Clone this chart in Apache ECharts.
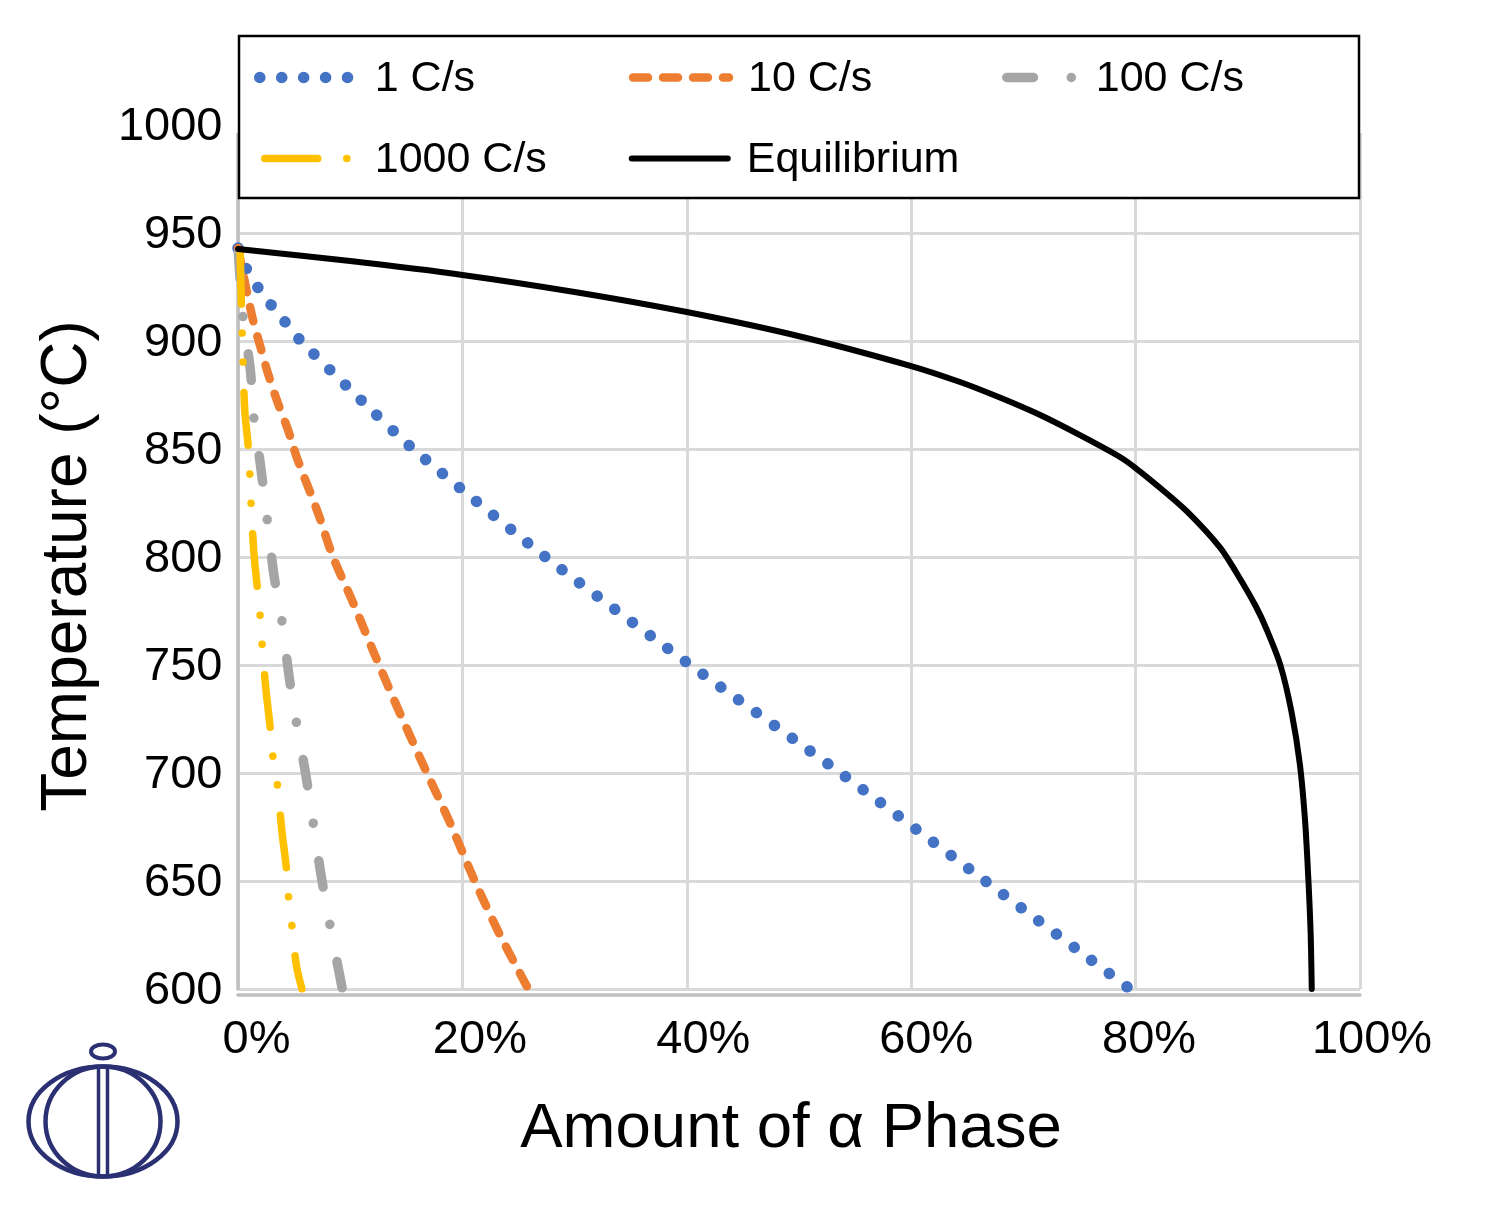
<!DOCTYPE html>
<html><head><meta charset="utf-8">
<script src="https://cdn.jsdelivr.net/npm/echarts@6/dist/echarts.min.js"></script>
<style>html,body{margin:0;background:#fff}#c{width:1501px;height:1211px}</style></head>
<body><div id="c"></div>
<script>
const seriesNames = ['1 C/s','10 C/s','100 C/s','1000 C/s','Equilibrium'];
const xTickLabels = ['0%','20%','40%','60%','80%','100%'];
const yTickLabels = [600,650,700,750,800,850,900,950,1000];
const rate1 = [[0,943],[0.8,932.9],[1.87,924],[3.03,916.2],[4.28,908.3],[5.6,900],[10.5,875],[15.6,850],[27.4,800],[40.3,750],[53.7,700],[66.6,650],[79.5,600]];
const rate10 = [[0,943],[1.25,911.6],[1.96,898],[2.67,885],[3.5,872],[4.46,858.8],[5.26,845.8],[7.13,820.4],[8.47,800],[10.16,780],[12.2,754.6],[14.4,728],[16.84,700],[18.9,676.9],[21.1,650],[23.35,625],[25.67,602],[25.9,600]];
const rate100 = [[0,944],[0.45,911],[1.1,886.6],[1.4,865],[2,842.6],[2.6,817.6],[3.2,791.7],[3.9,770.8],[4.6,743],[5.2,723.6],[6,700.5],[6.7,676.9],[7.4,652.8],[8.2,629.6],[9.3,600]];
const rate1000 = [[0.18,944],[0.3,916.7],[0.45,890.7],[0.6,868],[0.9,851.9],[1.05,839],[1.16,825.5],[1.4,803],[1.7,787],[1.96,773.6],[2.14,760],[2.5,738],[2.85,722],[3.1,708],[3.5,695],[3.9,673.6],[4.3,656.5],[4.5,643],[4.8,629.6],[5.2,611],[5.7,600]];
const equilibrium = [[0,942.6],[10,937],[20,930.6],[30,922.7],[40,913.4],[50.1,902.1],[60,888.4],[64.35,881],[67.9,873.8],[71.5,865.7],[75,856.5],[78.6,846.3],[80,841.2],[82.3,831.5],[84.6,821],[87.5,804.6],[89,792.6],[90.7,777.3],[91.7,766.2],[92.9,750],[93.9,728.2],[94.65,703.7],[95.1,678.2],[95.4,650.5],[95.6,625.9],[95.7,600]];

const mk = (name, data, color, width, dash, offset, smooth) => ({
  name, type:'line', data, showSymbol:false, symbol:'none', smooth, silent:true, animation:false,
  lineStyle:{color, width, type:dash, dashOffset:offset, cap:'round', join:'round'}, itemStyle:{color}, clip:true
});
const F = 'Liberation Sans';
const legendLine = {width:'inherit',type:'inherit',cap:'inherit',join:'inherit',dashOffset:'inherit'};
const legendText = (w,p) => ({rich:{a:{fontFamily:F,fontSize:43,color:'#000',width:w,padding:[0,0,0,p],height:81,lineHeight:85,verticalAlign:'bottom',align:'left'}}});
const chart = echarts.init(document.getElementById('c'), null, {renderer:'canvas'});
chart.setOption({
  animation:false,
  backgroundColor:'#fff',
  textStyle:{fontFamily:F,color:'#000'},
  grid:{left:238,right:141,top:125,bottom:222,containLabel:false},
  legend:[
    {z:10,left:254,top:39,width:760,padding:0,itemGap:0,itemWidth:96,itemHeight:4,
     selectedMode:false,lineStyle:legendLine,itemStyle:{opacity:0},formatter:'{a|{name}}',
     data:[seriesNames[0],seriesNames[1],seriesNames[3],seriesNames[4]],
     textStyle:legendText(254,14)},
    {z:10,left:996,top:39,padding:0,itemGap:0,itemWidth:75,itemHeight:4,
     selectedMode:false,lineStyle:legendLine,itemStyle:{opacity:0},formatter:'{a|{name}}',
     data:[seriesNames[2]],
     textStyle:legendText(200,15)}
  ],
  xAxis:{
    type:'value', min:0, max:100, interval:20, offset:6,
    name:'Amount of α Phase', nameLocation:'middle', nameGap:102,
    nameTextStyle:{fontFamily:F,fontSize:63.5,color:'#000',padding:[0,16,0,0]},
    axisLine:{show:true,onZero:false,lineStyle:{color:'#bfbfbf',width:3.5}},
    axisTick:{show:false},
    axisLabel:{fontFamily:F,fontSize:47,color:'#000',margin:22,hideOverlap:false,
      formatter:v=>'{p'+(v/20)+'|'+xTickLabels[v/20]+'}',
      rich:{
        p0:{padding:[0,0,0,37]},p1:{padding:[0,0,0,35]},p2:{padding:[0,0,0,33]},
        p3:{padding:[0,0,0,30]},p4:{padding:[0,0,0,27]},p5:{padding:[0,0,0,24]}
      }},
    splitLine:{show:true,lineStyle:{color:'#d9d9d9',width:3}}
  },
  yAxis:{
    type:'value', min:600, max:1000, interval:50,
    name:'Temperature (°C)', nameLocation:'middle', nameGap:138, nameRotate:90,
    nameTextStyle:{fontFamily:F,fontSize:64,color:'#000',padding:[18,18,0,0]},
    axisLine:{show:true,onZero:false,lineStyle:{color:'#bfbfbf',width:3.5}},
    axisTick:{show:false},
    axisLabel:{fontFamily:F,fontSize:47,color:'#000',margin:15.5,verticalAlign:'top',lineHeight:5,hideOverlap:false,
      formatter:v=>String(yTickLabels[(v-600)/50])},
    splitLine:{show:true,lineStyle:{color:'#d9d9d9',width:3}}
  },
  series:[
    mk(seriesNames[0],rate1,'#4472c4',11.5,[0.1,21.83],0,0.2),
    mk(seriesNames[1],rate10,'#ed7d31',8.5,[15,15],0,0.3),
    mk(seriesNames[2],rate100,'#a5a5a5',9.5,[26.7,37.8,0.1,37.8],-6,0.3),
    mk(seriesNames[3],rate1000,'#ffc000',7.5,[53,29,0.1,29,0.1,30.3],-5,0.3),
    mk(seriesNames[4],equilibrium,'#000',6,'solid',0,0.3)
  ],
  graphic:[
    {type:'rect',z:3,silent:true,shape:{x:230,y:30,width:1140,height:103},style:{fill:'#fff'}},
    {type:'rect',z:4,silent:true,shape:{x:239,y:36,width:1120,height:162},style:{fill:'#fff',stroke:'#000',lineWidth:2.5}},
    {type:'ellipse',z:5,silent:true,shape:{cx:103,cy:1121.5,rx:74.5,ry:55},style:{fill:null,stroke:'#2a3072',lineWidth:4.5}},
    {type:'ellipse',z:5,silent:true,shape:{cx:103,cy:1121.5,rx:57.5,ry:55},style:{fill:null,stroke:'#2a3072',lineWidth:4.5}},
    {type:'ellipse',z:5,silent:true,shape:{cx:103,cy:1051.5,rx:12,ry:7},style:{fill:null,stroke:'#2a3072',lineWidth:4}},
    {type:'line',z:5,silent:true,shape:{x1:98.5,y1:1067,x2:98.5,y2:1175},style:{stroke:'#2a3072',lineWidth:3.5}},
    {type:'line',z:5,silent:true,shape:{x1:107.5,y1:1067,x2:107.5,y2:1175},style:{stroke:'#2a3072',lineWidth:3.5}}
  ]
});
</script></body></html>
